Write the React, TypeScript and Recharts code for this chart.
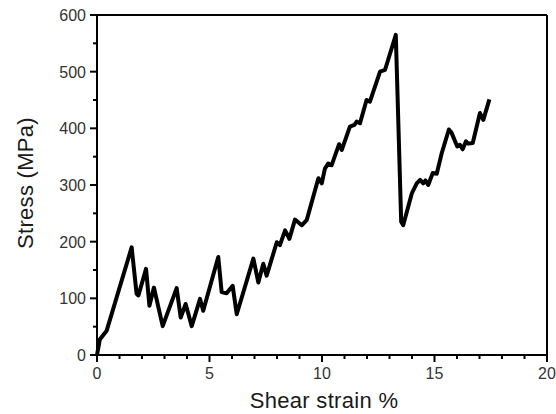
import { LineChart, Line, XAxis, YAxis, ReferenceLine } from "recharts";

// shear strain (%) vs stress (MPa)
const strain = [
  0, 0.13, 0.43, 1.54, 1.76, 1.84, 2.18, 2.33, 2.53, 2.92, 3.54, 3.72, 3.94, 4.21, 4.58, 4.72,
  5.39, 5.54, 5.76, 6.03, 6.21, 6.95, 7.17, 7.39, 7.54, 7.99, 8.13, 8.36, 8.55, 8.8, 9.1, 9.32,
  9.84, 9.99, 10.13, 10.28, 10.43, 10.76, 10.88, 11.24, 11.44, 11.54, 11.69, 11.98, 12.13, 12.58,
  12.8, 13.28, 13.52, 13.61, 13.99, 14.21, 14.36, 14.5, 14.6, 14.72, 14.92, 15.1, 15.32, 15.64,
  15.76, 16.01, 16.13, 16.25, 16.4, 16.5, 16.7, 17.02, 17.17, 17.44,
];
const stress = [
  0, 28, 43, 190, 108, 105, 152, 87, 119, 51, 118, 66, 90, 51, 99, 78,
  173, 111, 109, 122, 72, 170, 128, 161, 140, 199, 194, 220, 205, 239, 229, 238,
  312, 303, 329, 338, 335, 372, 362, 403, 406, 412, 409, 450, 447, 500,
  503, 565, 235, 229, 285, 303, 309, 303, 308, 300, 321, 320, 356, 398,
  392, 368, 371, 363, 377, 373, 374, 427, 415, 451,
];

const xTicks = [0, 1, 2, 3, 4, 5, 6, 7, 8, 9, 10, 11, 12, 13, 14, 15, 16, 17, 18, 19, 20];
const yTicks = [0, 50, 100, 150, 200, 250, 300, 350, 400, 450, 500, 550, 600];

const data = strain.map((s, i) => ({ strain: s, stress: stress[i] }));

const font = "'Liberation Sans', Arial, sans-serif";

function XTick({ x, y, payload }: any) {
  const major = payload.value % 5 === 0;
  return (
    <g>
      <line x1={x} y1={y} x2={x} y2={y + (major ? 7 : 4)} stroke="#000" strokeWidth={2} />
      {major && (
        <text x={x} y={y + 24} textAnchor="middle" fontSize={16} fill="#333" fontFamily={font}>
          {payload.value}
        </text>
      )}
    </g>
  );
}

function YTick({ x, y, payload }: any) {
  const major = payload.value % 100 === 0;
  return (
    <g>
      <line x1={x - (major ? 7 : 4)} y1={y} x2={x} y2={y} stroke="#000" strokeWidth={2} />
      {major && (
        <text x={x - 11} y={y + 6} textAnchor="end" fontSize={16} fill="#333" fontFamily={font}>
          {payload.value}
        </text>
      )}
    </g>
  );
}

export default function App() {
  return (
    <div style={{ position: "absolute", left: 0, top: 0, background: "#fff" }}>
      <LineChart width={556} height={414} data={data} margin={{ top: 15, right: 9, bottom: 0, left: 0 }}>
        <XAxis
          dataKey="strain"
          type="number"
          domain={[0, 20]}
          ticks={xTicks}
          interval={0}
          height={59}
          tickSize={0}
          tickMargin={0}
          tickLine={false}
          tick={<XTick />}
          axisLine={{ stroke: "#000", strokeWidth: 2 }}
          label={{
            value: "Shear strain %",
            position: "insideBottom",
            offset: 6,
            dx: 2,
            fontSize: 22,
            fill: "#1a1a1a",
            fontFamily: font,
            letterSpacing: 0.3,
          }}
        />
        <YAxis
          type="number"
          domain={[0, 600]}
          ticks={yTicks}
          interval={0}
          width={97}
          tickSize={0}
          tickMargin={0}
          tickLine={false}
          tick={<YTick />}
          axisLine={{ stroke: "#000", strokeWidth: 2 }}
          label={{
            value: "Stress (MPa)",
            angle: -90,
            position: "insideLeft",
            offset: 25,
            dy: -2,
            style: { textAnchor: "middle" },
            fontSize: 22,
            fill: "#1a1a1a",
            fontFamily: font,
            letterSpacing: 0.3,
          }}
        />
        <ReferenceLine y={600} stroke="#000" strokeWidth={2} ifOverflow="visible" />
        <ReferenceLine x={20} stroke="#000" strokeWidth={2} ifOverflow="visible" />
        <Line
          type="linear"
          dataKey="stress"
          stroke="#000"
          strokeWidth={4}
          strokeLinejoin="round"
          dot={false}
          isAnimationActive={false}
        />
      </LineChart>
    </div>
  );
}
